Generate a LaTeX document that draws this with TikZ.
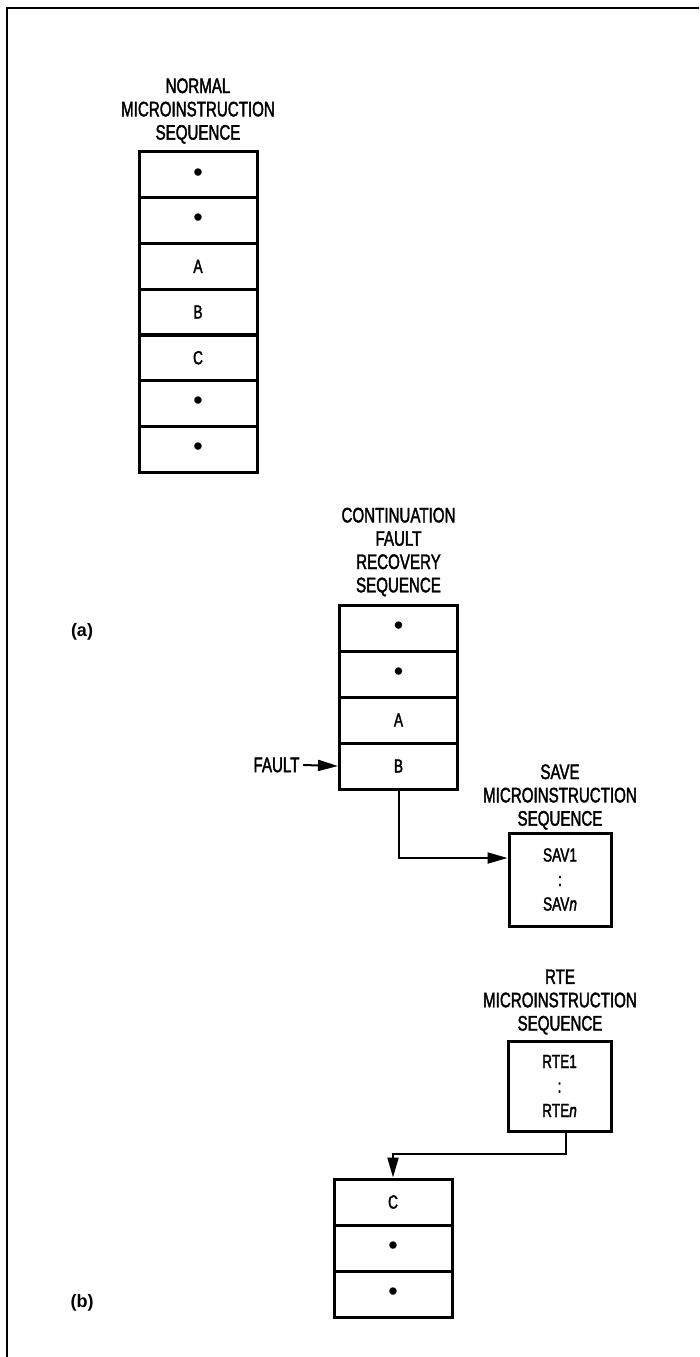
\documentclass[tikz,border=0pt]{standalone}
\usepackage{fontspec}
\setmainfont{Liberation Sans}[FakeStretch=0.72, FakeBold=1.8]
\newfontfamily\plainfont{Liberation Sans}
\usetikzlibrary{arrows.meta}
\tikzset{
  row/.style={draw, line width=3pt, minimum width=118pt, minimum height=46pt, inner sep=0pt,
    font=\fontsize{19}{20}\selectfont},
  seqbox/.style={draw, line width=3pt, inner sep=0pt, align=center,
    font=\fontsize{19}{24.5}\selectfont},
  title/.style={align=center, font=\fontsize{21}{23.3}\selectfont},
  conn/.style={line width=2pt},
  tip/.style={-{Triangle[length=20pt,width=11pt]}},
  part/.style={font=\plainfont\bfseries\fontsize{18}{20}\selectfont}
}
\newcommand{\dotmark}{{\plainfont\fontsize{27}{20}\selectfont\textbullet}}
\begin{document}
\begin{tikzpicture}[x=1pt,y=-1pt]
\useasboundingbox (0,0) rectangle (699,1357);
% frame
\draw[line width=2pt] (7,1357) -- (7,8) -- (699,8);

% (a) normal sequence
\node[title] (ta) at (198,111) {NORMAL\\MICROINSTRUCTION\\SEQUENCE};
\node[row] (a1) at (198,174.9) {\dotmark};
\node[row] (a2) at (198,220.6) {\dotmark};
\node[row] (a3) at (198,266.3) {A};
\node[row] (a4) at (198,312.0) {B};
\node[row] (a5) at (198,357.7) {C};
\node[row] (a6) at (198,403.4) {\dotmark};
\node[row] (a7) at (198,449.1) {\dotmark};
\node[part] (la) at (82,632) {(a)};

% (b) continuation fault recovery sequence
\node[title] (tb) at (398.5,552) {CONTINUATION\\FAULT\\RECOVERY\\SEQUENCE};
\node[row] (b1) at (398.5,628) {\dotmark};
\node[row] (b2) at (398.5,674) {\dotmark};
\node[row] (b3) at (398.5,720) {A};
\node[row] (b4) at (398.5,766) {B};
\node[title, anchor=east] (fault) at (303,765) {FAULT};
\draw[conn,tip] (fault.east) -- (b4.west);

% save sequence
\node[title] (ts) at (560,797) {SAVE\\MICROINSTRUCTION\\SEQUENCE};
\node[seqbox, minimum width=102pt, minimum height=93pt] (sav) at (560,879.5) {SAV1\\:\\SAV\textit{n}};
\coordinate (c0) at (398.5,858);
\draw[conn,tip] (b4.south) -- (c0) -- (c0 -| sav.west);

% RTE sequence
\node[title] (tr) at (560,1002) {RTE\\MICROINSTRUCTION\\SEQUENCE};
\node[seqbox, minimum width=103pt, minimum height=90pt] (rte) at (559.5,1086) {RTE1\\:\\RTE\textit{n}};

% resumed sequence
\node[row] (c1) at (393,1202) {C};
\node[row] (c2) at (393,1248) {\dotmark};
\node[row] (c3) at (393,1294) {\dotmark};
\node[part] (lb) at (82,1303) {(b)};
\coordinate (k1) at (566,1154);
\draw[conn,tip] (rte.south -| k1) -- (k1) -| (c1.north);
\end{tikzpicture}
\end{document}
